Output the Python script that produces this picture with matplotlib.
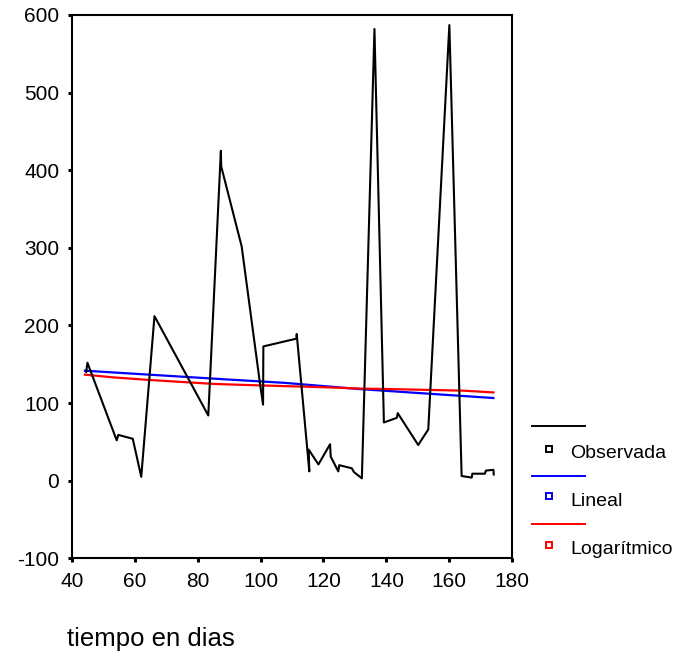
import matplotlib
matplotlib.use("Agg")
import matplotlib.pyplot as plt
from matplotlib.lines import Line2D

plt.rcParams['font.family'] = ['Liberation Sans', 'DejaVu Sans']
plt.rcParams['axes.unicode_minus'] = False

# Observed series: day vs value
obs_days = [44.6, 45.0, 54.3, 54.8, 59.4, 62.1, 66.3, 83.4, 87.4, 87.5, 94.0,
            99.8, 100.8, 100.9, 111.4, 111.5, 115.5, 115.3, 118.4, 122.1, 122.3,
            124.7, 125.0, 129.0, 129.7, 132.2, 136.2, 139.2, 143.3, 143.6,
            150.1, 153.3, 160.0, 163.9, 167.1, 167.3, 171.3, 171.6, 174.0, 174.1]
obs_vals = [140, 152, 52, 59, 54, 5, 212, 84, 425, 405, 302,
            126, 98, 173, 183, 189, 12, 40, 21, 47, 31,
            12, 20, 16, 11, 3, 582, 75, 81, 87,
            46, 66, 587, 6, 4, 9, 9, 13, 14, 8]

# Linear fit values along the time axis
lin_days = [44.2, 87.1, 107.8, 131.6, 174.0]
lin_vals = [141.7, 131.0, 126.0, 118.0, 106.5]

# Logarithmic fit values along the time axis
log_days = [44.2, 53.2, 64.9, 85.5, 99.3, 117.9, 132.2, 139.0, 164.4, 174.0]
log_vals = [136.6, 133.1, 129.7, 124.6, 122.8, 120.7, 118.6, 118.2, 116.0, 113.7]

x_ticks = [40, 60, 80, 100, 120, 140, 160, 180]
y_ticks = [-100, 0, 100, 200, 300, 400, 500, 600]

legend_labels = ['Observada', 'Lineal', 'Logarítmico']
legend_colors = ['black', '#0000ff', '#ff0000']

W, H = 689, 652
fig = plt.figure(figsize=(W / 100, H / 100), dpi=100)
ax = fig.add_axes([71.7 / W, 1 - 558.3 / H, (512.3 - 71.7) / W, (558.3 - 15) / H])

ax.plot(lin_days, lin_vals, color='#0000ff', lw=1.6, zorder=2)
ax.plot(log_days, log_vals, color='#ff0000', lw=1.6, zorder=3)
ax.plot(obs_days, obs_vals, color='black', lw=1.5, zorder=4)

ax.set_xlim(40, 180)
ax.set_ylim(-100, 600)
ax.set_xticks(x_ticks)
ax.set_yticks(y_ticks)
ax.tick_params(axis='both', direction='out', length=3, width=2.2,
               labelsize=15, pad=6, color='black')
ax.tick_params(axis='x', pad=7)
for s in ax.spines.values():
    s.set_linewidth(1.5)
    s.set_color('black')

# Legend drawn in figure coordinates: line sample above each marker + label
line_y = [426, 475.7, 524.3]
box_y = [448.5, 496, 544.5]
text_y = [453, 501, 549]
for lbl, col, ly, by, ty in zip(legend_labels, legend_colors, line_y, box_y, text_y):
    fig.add_artist(Line2D([531.7 / W, 585 / W], [1 - ly / H, 1 - ly / H],
                          color=col, lw=1.4, transform=fig.transFigure))
    fig.add_artist(Line2D([549 / W], [1 - by / H], marker='s', markersize=4.5,
                          markerfacecolor='white', markeredgecolor=col,
                          markeredgewidth=1.4, linestyle='none',
                          transform=fig.transFigure))
    fig.text(570 / W, 1 - ty / H, lbl, fontsize=14, ha='left', va='center')

fig.text(67 / W, 1 - 639 / H, 'tiempo en dias', fontsize=18.5, ha='left', va='center')

fig.savefig('out.png', dpi=100)
